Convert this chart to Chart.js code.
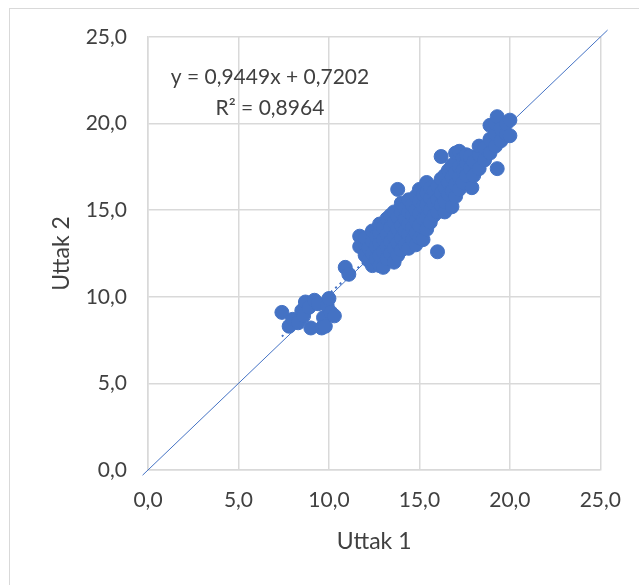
<!DOCTYPE html>
<html>
<head>
<meta charset="utf-8">
<script src="https://cdn.jsdelivr.net/npm/chart.js@4"></script>
<style>
  body { margin: 0; background: #fff; overflow: hidden; }
  #wrap { position: relative; width: 639px; height: 585px; overflow: hidden; }
  #frame { position: absolute; left: 9px; top: 8px; width: 700px; height: 700px; border: 1px solid #d9d9d9; }
  canvas { position: absolute; left: 0; top: 0; }
</style>
</head>
<body>
<div id="wrap">
  <div id="frame"></div>
  <canvas id="chart" width="639" height="585"></canvas>
</div>
<script>
// Uttak 1 / Uttak 2 pairs
const uttak1 = [
  7.4, 7.8, 8.0, 8.3, 8.5, 8.6, 8.7, 8.9, 9.0, 9.2, 9.4, 9.6, 9.7, 9.8, 9.9, 10.0, 10.1, 10.3,
  10.9, 11.1,
  11.7, 11.7, 12.0, 12.0, 12.0, 12.2, 12.2, 12.4, 12.4, 12.4, 12.4, 12.6, 12.6, 12.6,
  12.8, 12.8, 12.8, 12.8, 12.8, 13.0, 13.0, 13.0, 13.0, 13.2, 13.2, 13.2, 13.2,
  13.4, 13.4, 13.4, 13.4, 13.6, 13.6, 13.6, 13.6, 13.6, 13.8, 13.8, 13.8, 13.8, 13.8,
  14.0, 14.0, 14.0, 14.0, 14.0, 14.2, 14.2, 14.2, 14.2, 14.4, 14.4, 14.4, 14.4, 14.4,
  14.6, 14.6, 14.6, 14.6, 14.8, 14.8, 14.8, 14.8, 14.8, 15.0, 15.0, 15.0, 15.0, 15.0,
  15.2, 15.2, 15.2, 15.2, 15.4, 15.4, 15.4, 15.4, 15.4, 15.6, 15.6, 15.6, 15.6,
  15.8, 15.8, 15.8, 16.0, 16.0, 16.0, 16.0, 16.2, 16.2, 16.2, 16.2,
  16.4, 16.4, 16.4, 16.4, 16.6, 16.6, 16.6, 16.8, 16.8, 16.8, 16.8,
  17.0, 17.0, 17.0, 17.0, 17.2, 17.2, 17.2, 17.2, 17.4, 17.4, 17.4, 17.6, 17.6, 17.6,
  17.9, 17.8, 17.8, 18.0, 18.0, 18.3, 18.3, 18.3, 18.6, 18.6, 18.9, 18.9, 18.9,
  19.2, 19.2, 19.2, 19.3, 19.3, 19.5, 19.5, 19.8, 19.8, 20.0, 20.0
];
const uttak2 = [
  9.1, 8.3, 8.7, 8.5, 9.2, 8.9, 9.7, 9.4, 8.2, 9.8, 9.6, 8.2, 8.8, 8.3, 9.5, 9.9, 9.1, 8.9,
  11.7, 11.3,
  13.5, 12.9, 13.0, 12.4, 13.4, 12.1, 12.8, 11.8, 12.5, 13.2, 13.8, 12.2, 12.9, 13.5,
  11.8, 12.4, 13.1, 13.7, 14.2, 11.7, 12.6, 13.3, 14.0, 12.2, 12.9, 13.6, 14.5,
  12.5, 13.2, 14.0, 14.7, 12.0, 12.8, 13.5, 14.3, 14.9, 12.4, 13.1, 13.9, 14.6, 16.2,
  12.7, 13.4, 14.1, 14.9, 15.4, 13.0, 13.8, 14.5, 15.1, 12.8, 13.6, 14.2, 14.9, 15.6,
  13.3, 14.0, 14.7, 15.3, 13.0, 13.7, 14.4, 15.0, 15.8, 13.4, 14.1, 14.8, 15.5, 16.2,
  13.3, 14.5, 15.2, 15.9, 13.9, 14.6, 15.3, 16.0, 16.6, 14.3, 15.0, 15.7, 16.3,
  14.7, 15.4, 16.1, 12.6, 14.9, 15.6, 16.4, 15.3, 16.0, 16.8, 18.1,
  14.9, 15.5, 16.3, 17.0, 15.9, 16.6, 17.3, 15.2, 16.1, 16.9, 17.6,
  15.8, 16.5, 17.2, 18.3, 16.2, 16.9, 17.5, 18.4, 16.6, 17.3, 18.0, 17.0, 17.7, 18.2,
  16.3, 17.4, 18.1, 17.0, 17.8, 17.4, 18.2, 18.7, 17.9, 18.6, 18.3, 19.1, 19.9,
  18.7, 19.4, 20.0, 17.4, 20.4, 19.0, 19.7, 19.4, 20.0, 19.3, 20.2
];

// trendline (y = 0,9449x + 0,7202) end points and the y = x reference line
const trendX = [7.4, 20.1];
const trendY = [7.71, 19.71];
const diagX = [-0.3, 25.4];
const diagY = [-0.3, 25.4];

const axisTicks = [0, 5, 10, 15, 20, 25];
const equationText = 'y = 0,9449x + 0,7202';
const r2Text = 'R² = 0,8964';
const xTitle = 'Uttak 1';
const yTitle = 'Uttak 2';

const blue = '#4472C4';
const textGrey = '#404040';
const gridGrey = '#d9d9d9';
const fontFamily = 'Lato, Calibri, sans-serif';

const points = uttak1.map((x, i) => ({ x: x, y: uttak2[i] }));
const trend = trendX.map((x, i) => ({ x: x, y: trendY[i] }));
const diag = diagX.map((x, i) => ({ x: x, y: diagY[i] }));

const fmt = v => v.toFixed(1).replace('.', ',');

// writes the trendline equation inside the plot
const equationLabel = {
  id: 'equationLabel',
  afterDatasetsDraw(chart) {
    const { ctx, scales } = chart;
    ctx.save();
    ctx.fillStyle = textGrey;
    ctx.font = '21px ' + fontFamily;
    ctx.textAlign = 'center';
    ctx.textBaseline = 'middle';
    ctx.fillText(equationText, scales.x.getPixelForValue(6.74), scales.y.getPixelForValue(22.69));
    ctx.fillText(r2Text, scales.x.getPixelForValue(6.74), scales.y.getPixelForValue(20.9));
    ctx.restore();
  }
};

const axisCommon = {
  type: 'linear',
  min: 0,
  max: 25,
  grid: { color: gridGrey, lineWidth: 1.5, drawTicks: false },
  border: { color: gridGrey, width: 1.5 },
  afterBuildTicks: axis => { axis.ticks = axisTicks.map(v => ({ value: v })); }
};

new Chart(document.getElementById('chart'), {
  type: 'scatter',
  data: {
    datasets: [
      {
        label: 'Uttak',
        data: points,
        backgroundColor: blue,
        borderColor: blue,
        borderWidth: 1,
        pointRadius: 7,
        order: 1
      },
      {
        label: 'Trend',
        data: trend,
        type: 'line',
        showLine: true,
        borderColor: blue,
        borderWidth: 2,
        borderDash: [2, 4],
        pointRadius: 0,
        order: 2
      },
      {
        label: 'y = x',
        data: diag,
        type: 'line',
        showLine: true,
        borderColor: blue,
        borderWidth: 1,
        pointRadius: 0,
        clip: 10,
        order: 3
      }
    ]
  },
  options: {
    responsive: false,
    animation: false,
    layout: { padding: { top: 37, right: 38, left: 0, bottom: 0 } },
    plugins: { legend: { display: false }, tooltip: { enabled: false } },
    scales: {
      x: Object.assign({}, axisCommon, {
        position: 'bottom',
        ticks: { color: textGrey, font: { family: fontFamily, size: 21 }, padding: 18, callback: v => fmt(v), maxRotation: 0 },
        title: { display: true, text: xTitle, color: textGrey, font: { family: fontFamily, size: 23 }, padding: { top: 0, bottom: 30 } },
        afterFit: s => { s.height = 115; }
      }),
      y: Object.assign({}, axisCommon, {
        position: 'left',
        ticks: { color: textGrey, font: { family: fontFamily, size: 21 }, padding: 21, callback: v => fmt(v) },
        title: { display: true, text: yTitle, color: textGrey, font: { family: fontFamily, size: 23 }, padding: { top: 48, bottom: 0 } },
        afterFit: s => { s.width = 148; }
      })
    }
  },
  plugins: [equationLabel]
});
</script>
</body>
</html>
